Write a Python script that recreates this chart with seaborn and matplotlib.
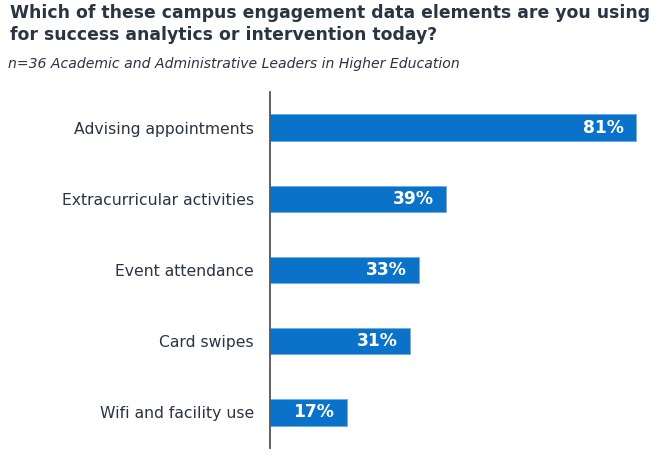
import matplotlib
matplotlib.use("Agg")
import matplotlib.pyplot as plt
import seaborn as sns
import pandas as pd

categories = ["Advising appointments", "Extracurricular activities", "Event attendance",
              "Card swipes", "Wifi and facility use"]
values = [81, 39, 33, 31, 17]
value_labels = ["81%", "39%", "33%", "31%", "17%"]

title = "Which of these campus engagement data elements are you using\nfor success analytics or intervention today?"
subtitle = "n=36 Academic and Administrative Leaders in Higher Education"

sns.set_theme(style="white")
plt.rcParams['font.family'] = ['DejaVu Sans']

W, H = 663, 461
fig = plt.figure(figsize=(W / 100, H / 100), dpi=100)
ax_left, ax_right, ax_top, ax_bottom = 270, 650, 92, 448
ax = fig.add_axes([ax_left / W, 1 - ax_bottom / H, (ax_right - ax_left) / W, (ax_bottom - ax_top) / H])

df = pd.DataFrame({"category": categories, "value": values})
bar_color = "#0b72c9"
sns.barplot(data=df, x="value", y="category", color=bar_color, width=0.37,
            saturation=1, ax=ax, edgecolor="#6aaee6", linewidth=0.6)

px_per_unit = 366 / 81
ax.set_xlim(0, (ax_right - ax_left) / px_per_unit)
ax.set_ylim(len(categories) - 0.5, -0.5)

for i, (v, lab) in enumerate(zip(values, value_labels)):
    ax.annotate(lab, xy=(v, i), xytext=(-9, 0), textcoords="offset points",
                ha="right", va="center", color="white", fontweight="bold", fontsize=12.3)

ax.set_xlabel("")
ax.set_ylabel("")
ax.set_xticks([])
ax.tick_params(axis="y", length=0, pad=11.5, labelsize=11.25, labelcolor="#2b3442")
for s in ["top", "right", "bottom"]:
    ax.spines[s].set_visible(False)
ax.spines["left"].set_color("#555555")
ax.spines["left"].set_linewidth(1.3)

fig.text(10 / W, 1 - 4 / H, title, ha="left", va="top", fontsize=12.4, fontweight="bold",
         color="#2b3442", linespacing=1.3)
fig.text(8 / W, 1 - 57 / H, subtitle, ha="left", va="top", fontsize=10.1, style="italic",
         color="#2b3442")

fig.savefig("out.png", dpi=100)
